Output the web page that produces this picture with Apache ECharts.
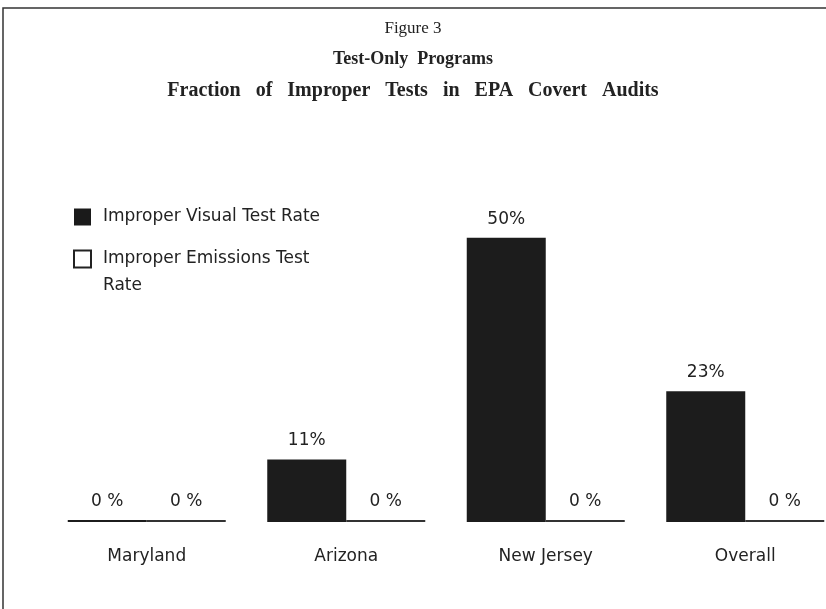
<!DOCTYPE html>
<html>
<head>
<meta charset="utf-8">
<script src="https://cdn.jsdelivr.net/npm/echarts@6/dist/echarts.min.js"></script>
<style>
  html, body { margin: 0; padding: 0; background: #fff; }
  #chart { width: 826px; height: 609px; }
</style>
</head>
<body>
<div id="chart"></div>
<script>
const categories = ["Maryland", "Arizona", "New Jersey", "Overall"];
const visualRate = [0, 11, 50, 23];
const emissionsRate = [0, 0, 0, 0];
const titleLines = ["Figure 3", "Test-Only  Programs", "Fraction   of   Improper   Tests   in   EPA   Covert   Audits"];

const chart = echarts.init(document.getElementById("chart"));
const pctLabel = (p) => (p.value === 0 ? "0 %" : p.value + "%");
const sans = "DejaVu Sans";

chart.setOption({
  backgroundColor: "#fff",
  animation: false,
  title: [
    { text: titleLines[0], left: "center", top: 15, textStyle: { fontFamily: "Liberation Serif", fontWeight: "normal", fontSize: 17, color: "#222" } },
    { text: titleLines[1], left: "center", top: 45, textStyle: { fontFamily: "Liberation Serif", fontWeight: "bold", fontSize: 18, color: "#222" } },
    { text: titleLines[2], left: "center", top: 76, textStyle: { fontFamily: "Liberation Serif", fontWeight: "bold", fontSize: 20, color: "#222" } },
  ],
  graphic: [
    { type: "rect", shape: { x: 3, y: 8, width: 900, height: 700 }, style: { fill: "none", stroke: "#333", lineWidth: 1.5 } },
    // second line of the wrapped legend entry
    { type: "text", left: 103, top: 277, style: { text: "Rate", font: "17px 'DejaVu Sans'", fill: "#222" } },
  ],
  legend: {
    orient: "vertical",
    left: 68,
    top: 199,
    itemWidth: 17,
    itemHeight: 17,
    itemGap: 16,
    icon: "rect",
    textStyle: { fontFamily: sans, fontSize: 17, color: "#222", lineHeight: 26, padding: [0, 0, 0, 7] },
    formatter: (name) => (name === "Improper Emissions Test Rate" ? "Improper Emissions Test" : name),
    data: [
      { name: "Improper Visual Test Rate", itemStyle: { color: "#1a1a1a" } },
      { name: "Improper Emissions Test Rate", itemStyle: { color: "#fff", borderColor: "#222", borderWidth: 2 } },
    ],
  },
  grid: { left: 47, top: 181, right: -19, bottom: 87, outerBoundsMode: "none" },
  xAxis: {
    type: "category",
    data: categories,
    axisLine: { show: false },
    axisTick: { show: false },
    axisLabel: { margin: 26, fontFamily: sans, fontSize: 17, color: "#222" },
  },
  yAxis: { type: "value", min: 0, max: 60, show: false, splitLine: { show: false } },
  series: [
    {
      name: "Improper Visual Test Rate",
      type: "bar",
      data: visualRate,
      barWidth: 79,
      barGap: "0%",
      barMinHeight: 2,
      itemStyle: { color: "#1c1c1c" },
      label: { show: true, position: "top", distance: 10, formatter: pctLabel, fontFamily: sans, fontSize: 17, color: "#222" },
    },
    {
      name: "Improper Emissions Test Rate",
      type: "bar",
      data: emissionsRate,
      barWidth: 79,
      barGap: "0%",
      barMinHeight: 2,
      itemStyle: { color: "#333" },
      label: { show: true, position: "top", distance: 10, formatter: pctLabel, fontFamily: sans, fontSize: 17, color: "#222" },
    },
  ],
});
window.addEventListener("resize", () => chart.resize());
</script>
</body>
</html>
